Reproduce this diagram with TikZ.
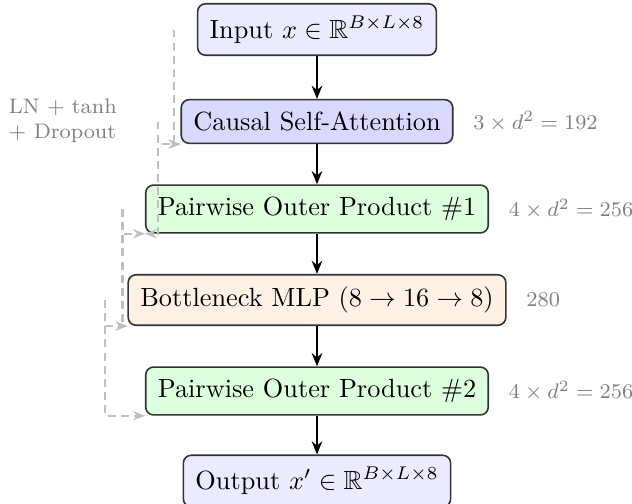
\documentclass[tikz,border=0pt]{standalone}
\usepackage{amssymb}
\usetikzlibrary{arrows.meta}
\begin{document}
\begin{tikzpicture}[x=0.38pt, y=-0.38pt,
  block/.style={draw=black!80, line width=0.6pt, rounded corners=3pt,
    inner xsep=4.6pt, inner ysep=4.6pt, font=\normalsize},
  flow/.style={-{Stealth[length=5pt,width=4pt]}, line width=0.8pt},
  skip/.style={-{Stealth[length=4.5pt,width=3.5pt]}, draw=black!25,
    line width=0.8pt, dash pattern=on 3pt off 2pt},
  cost/.style={font=\footnotesize, text=black!50, anchor=west}]
\useasboundingbox (0,0) rectangle (632,504);

% pipeline blocks
\node[block, fill=blue!8]    (in)  at (317,29.5) {Input $x \in \mathbb{R}^{B\times L\times 8}$};
\node[block, fill=blue!15]   (csa) at (317,121.5) {Causal Self-Attention};
\node[block, fill=green!13]  (pw1) at (317,209) {Pairwise Outer Product \#1};
\node[block, fill=orange!10] (mlp) at (317,300) {Bottleneck MLP $(8 \to 16 \to 8)$};
\node[block, fill=green!13]  (pw2) at (317,391) {Pairwise Outer Product \#2};
\node[block, fill=blue!8]    (out) at (317,481) {Output $x' \in \mathbb{R}^{B\times L\times 8}$};

% main data flow
\draw[flow] (in.south)  -- (csa.north);
\draw[flow] (csa.south) -- (pw1.north);
\draw[flow] (pw1.south) -- (mlp.north);
\draw[flow] (mlp.south) -- (pw2.north);
\draw[flow] (pw2.south) -- (out.north);

% parameter counts
\node[cost] (c1) at ([xshift=4pt]csa.east) {$3\times d^2=192$};
\node[cost] (c2) at ([xshift=4pt]pw1.east) {$4\times d^2=256$};
\node[cost] (c3) at ([xshift=4pt]mlp.east) {$280$};
\node[cost] (c4) at ([xshift=4pt]pw2.east) {$4\times d^2=256$};

% residual paths
\draw[skip] ([xshift=-0.3cm]in.west)  |- (csa.south west);
\draw[skip] ([xshift=-0.3cm]csa.west) |- (csa.south west);
\draw[skip] ([xshift=-0.3cm]csa.west) |- (pw1.south west);
\draw[skip] ([xshift=-0.3cm]pw1.west) |- (pw1.south west);
\draw[skip] ([xshift=-0.3cm]pw1.west) |- (mlp.south west);
\draw[skip] ([xshift=-0.3cm]mlp.west) |- (mlp.south west);
\draw[skip] ([xshift=-0.3cm]mlp.west) |- (pw2.south west);

\node[font=\footnotesize, text=black!50, align=left, anchor=east] (ln)
  at (126,121) {LN + tanh\\+ Dropout};
\end{tikzpicture}
\end{document}
